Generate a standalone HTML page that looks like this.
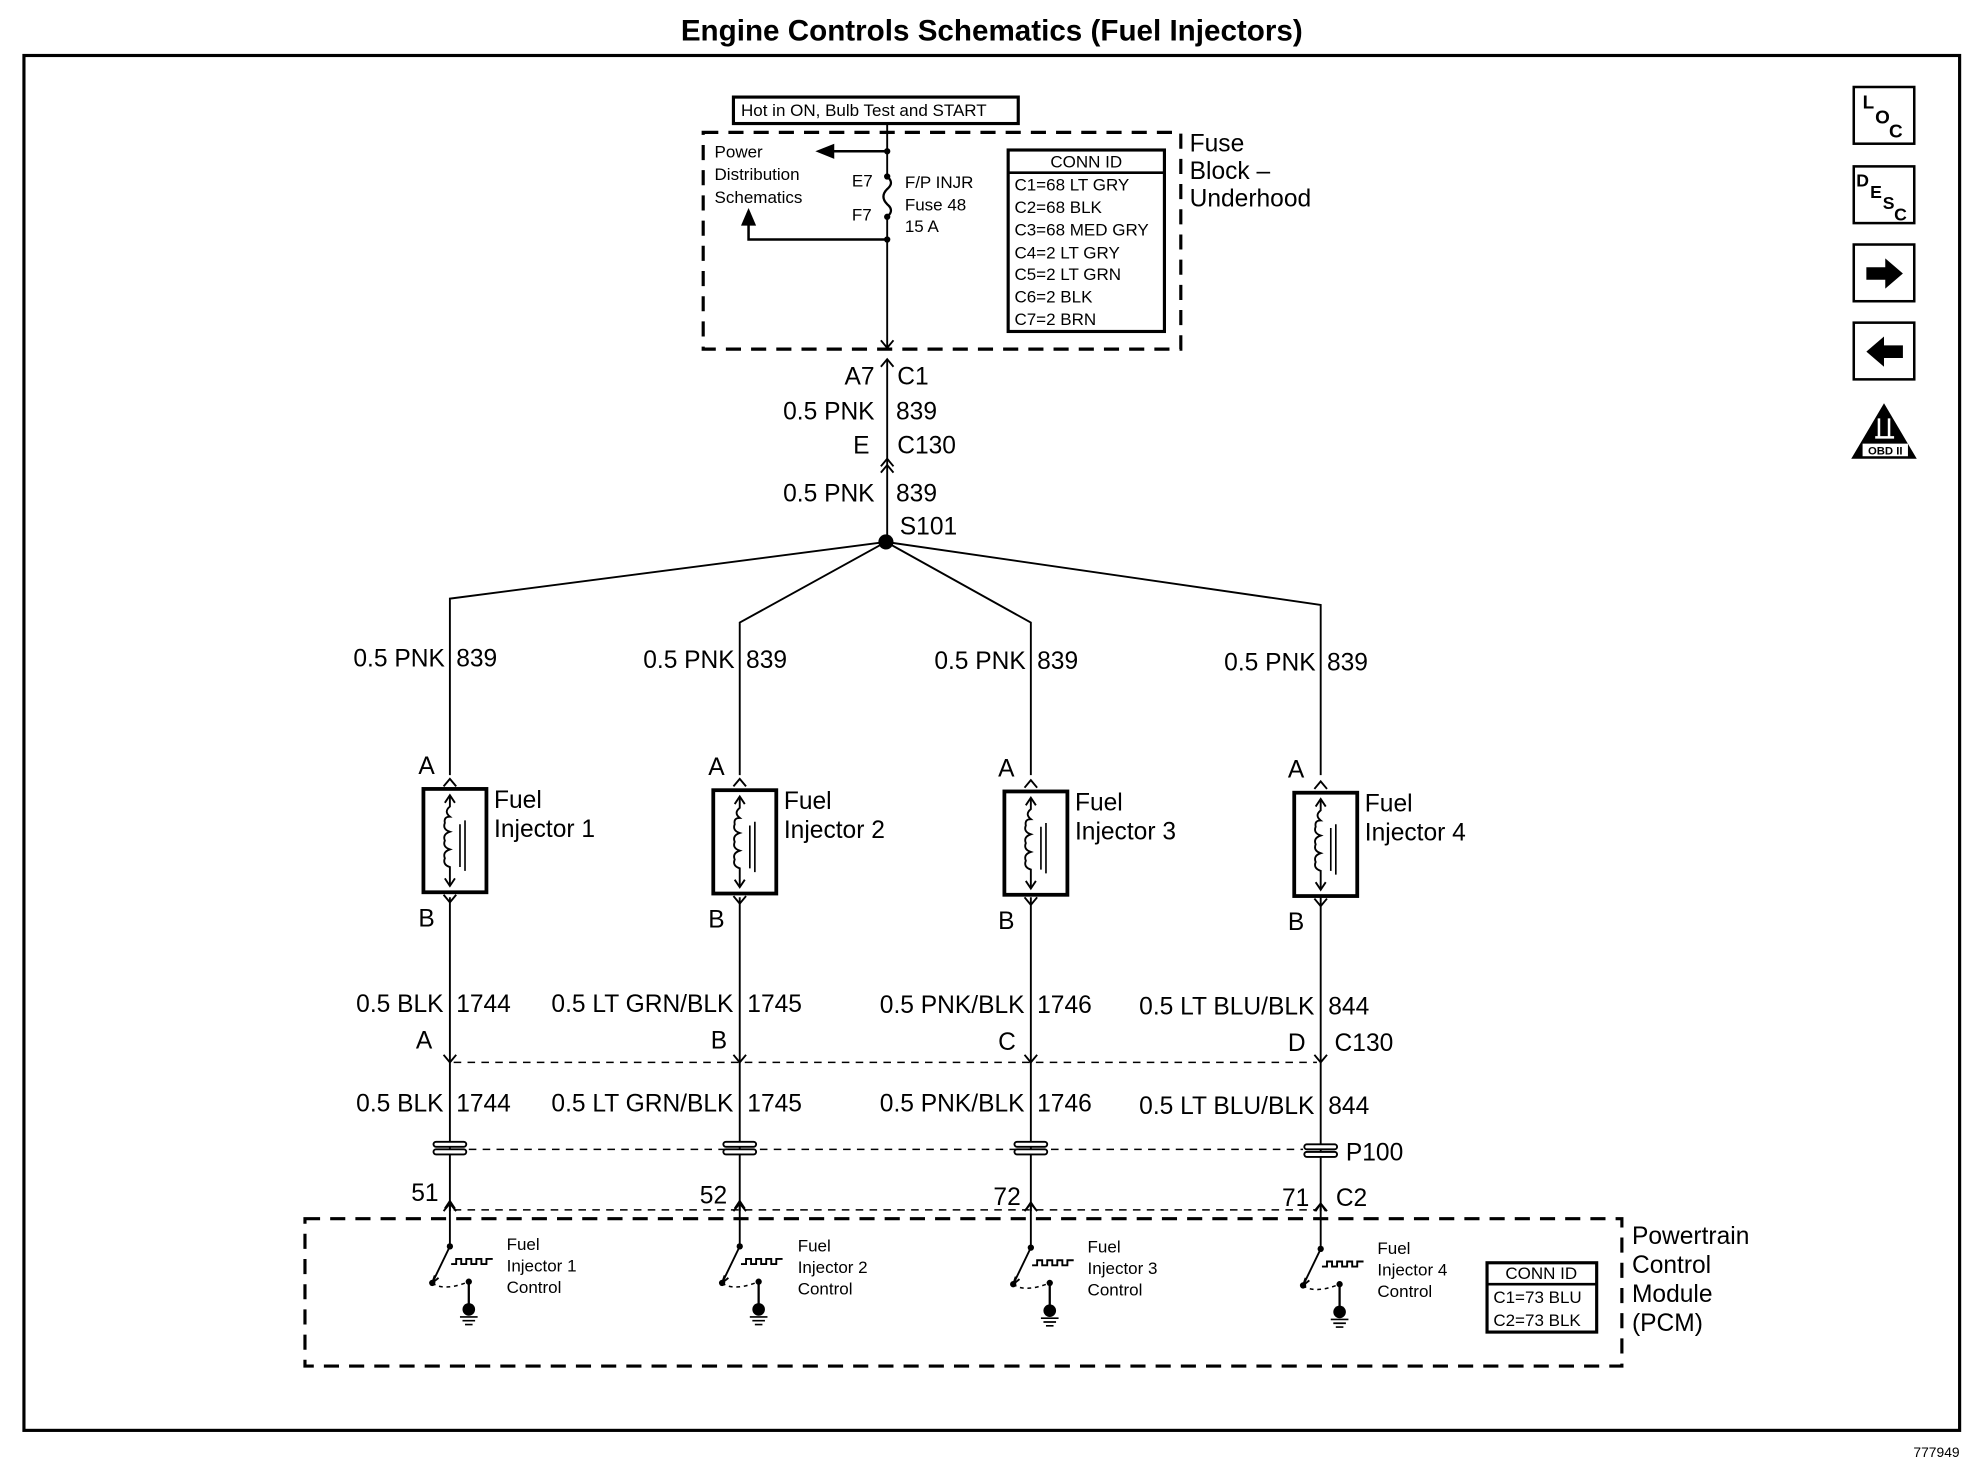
<!DOCTYPE html>
<html><head><meta charset="utf-8"><style>
html,body{margin:0;padding:0;background:#fff}
svg{display:block}
text{font-family:"Liberation Sans",Arial,sans-serif;fill:#000}
</style></head><body>
<svg width="1976" height="1472" viewBox="0 0 1568 1168" xmlns="http://www.w3.org/2000/svg">
<defs>
<g id="inj">
  <rect x="-21" y="0" width="50" height="82" fill="#fff" stroke="#000" stroke-width="3"/>
  <path d="M0 6 V14 q-5 4 0 8 q-5 0 -4 5 q-2 5 4 7 q-6 2 -4 7 q-2 5 4 7 q-6 2 -4 7 q-2 5 4 7 V76" fill="none" stroke="#000" stroke-width="1.5"/>
  <path d="M-4 11 L0 5 L4 11 M-4 71 L0 77 L4 71" fill="none" stroke="#000" stroke-width="1.5"/>
  <path d="M8 28 V62 M12 25 V65" stroke="#000" stroke-width="1.3"/>
</g>
<g id="sw">
  <path d="M0 -14 V22" stroke="#000" stroke-width="1.5"/>
  <path d="M-4 -8 L0 -14 L4 -8" fill="none" stroke="#000" stroke-width="1.5"/>
  <circle cx="0" cy="22" r="2.5"/>
  <path d="M0 22 L-14 51" stroke="#000" stroke-width="1.5"/>
  <path d="M-12 45 L-14 51 L-9 47" fill="none" stroke="#000" stroke-width="1.5"/>
  <circle cx="-14" cy="51" r="2.5"/>
  <path d="M1 36 H5 V32 H9 V36 H13 V32 H17 V36 H21 V32 H25 V36 H29 V32 H34" fill="none" stroke="#000" stroke-width="1.5"/>
  <path d="M-14 51 Q-5 58 15 50" fill="none" stroke="#000" stroke-width="1.2" stroke-dasharray="3,3"/>
  <circle cx="15" cy="50" r="2.5"/>
  <path d="M15 50 V72" stroke="#000" stroke-width="1.8"/>
  <circle cx="15" cy="72" r="5"/>
  <path d="M8 78 H22 M10 81 H20 M12 84 H18" stroke="#000" stroke-width="1.3"/>
</g>
<g id="up"><path d="M-5 6 L0 0 L5 6" fill="none" stroke="#000" stroke-width="1.5"/></g>
<g id="dn"><path d="M-5 -6 L0 0 L5 -6" fill="none" stroke="#000" stroke-width="1.5"/></g>
<g id="p100"><rect x="-13" y="-5" width="26" height="4" rx="2" fill="#fff" stroke="#000" stroke-width="1.5"/><rect x="-13" y="1" width="26" height="4" rx="2" fill="#fff" stroke="#000" stroke-width="1.5"/></g>
</defs>

<text x="787" y="32" font-size="23.5" font-weight="bold" text-anchor="middle">Engine Controls Schematics (Fuel Injectors)</text>
<rect x="19" y="44" width="1536" height="1091" fill="none" stroke="#000" stroke-width="2.5"/>
<text x="1555" y="1156" font-size="11" text-anchor="end">777949</text>

<g stroke="#000" stroke-width="2" fill="#fff">
<rect x="1471" y="69" width="48" height="45"/><rect x="1471" y="132" width="48" height="45"/>
<rect x="1471" y="194" width="48" height="45"/><rect x="1471" y="256" width="48" height="45"/>
</g>
<text x="1478" y="86" font-size="15" font-weight="bold">L</text><text x="1488" y="98" font-size="15" font-weight="bold">O</text><text x="1499" y="109" font-size="15" font-weight="bold">C</text>
<text x="1473" y="148" font-size="14" font-weight="bold">D</text><text x="1484" y="157" font-size="14" font-weight="bold">E</text><text x="1494" y="166" font-size="14" font-weight="bold">S</text><text x="1503" y="175" font-size="14" font-weight="bold">C</text>
<path d="M1481 212 H1496 V205 L1510 217 L1496 229 V222 H1481 Z"/>
<path d="M1510 274 H1495 V267 L1481 279 L1495 291 V284 H1510 Z"/>
<path d="M1495 320 L1521 364 H1469 Z"/>
<rect x="1478" y="352" width="36" height="10" fill="#fff"/>
<text x="1496" y="360.5" font-size="9" font-weight="bold" text-anchor="middle">OBD II</text>
<path d="M1491 332 V346 M1499 332 V346 M1488 347 H1503" stroke="#fff" stroke-width="2"/>

<rect x="582" y="77" width="226" height="21" fill="none" stroke="#000" stroke-width="2.5"/>
<text x="588" y="92" font-size="13.5">Hot in ON, Bulb Test and START</text>
<rect x="558" y="105" width="379" height="172" fill="none" stroke="#000" stroke-width="2.5" stroke-dasharray="12,8"/>
<path d="M704 98 V275" stroke="#000" stroke-width="1.5"/>
<use href="#dn" x="704" y="276"/>
<rect x="700" y="138" width="10" height="36" fill="#fff"/>
<path d="M704 140 q6 5 0 10 q-6 6 0 12 q6 5 0 10" fill="none" stroke="#000" stroke-width="1.8"/>
<circle cx="704" cy="140" r="2.5"/><circle cx="704" cy="172" r="2.5"/>
<circle cx="704" cy="120" r="2.5"/><circle cx="704" cy="190" r="2.5"/>
<path d="M704 120 H660" stroke="#000" stroke-width="2"/>
<path d="M647 120 L662 114 V126 Z"/>
<path d="M704 190 H594 V178" stroke="#000" stroke-width="2" fill="none"/>
<path d="M594 165 L588 179 H600 Z"/>
<g font-size="13.5">
<text x="567" y="125">Power</text>
<text x="567" y="143">Distribution</text>
<text x="567" y="161">Schematics</text>
<text x="676" y="148">E7</text>
<text x="676" y="175">F7</text>
<text x="718" y="149">F/P INJR</text>
<text x="718" y="167">Fuse 48</text>
<text x="718" y="184">15 A</text>
</g>
<rect x="800" y="119" width="124" height="144" fill="#fff" stroke="#000" stroke-width="2.5"/>
<path d="M800 137 H924" stroke="#000" stroke-width="2"/>
<g font-size="13.5">
<text x="862" y="133" text-anchor="middle">CONN ID</text>
<text x="805" y="151">C1=68 LT GRY</text>
<text x="805" y="169">C2=68 BLK</text>
<text x="805" y="187">C3=68 MED GRY</text>
<text x="805" y="205">C4=2 LT GRY</text>
<text x="805" y="222">C5=2 LT GRN</text>
<text x="805" y="240">C6=2 BLK</text>
<text x="805" y="258">C7=2 BRN</text>
</g>
<g font-size="19.5">
<text x="944" y="120">Fuse</text>
<text x="944" y="142">Block –</text>
<text x="944" y="164">Underhood</text>
</g>

<path d="M704 285 V430" stroke="#000" stroke-width="1.5"/>
<use href="#up" x="704" y="285"/>
<use href="#up" x="704" y="364"/><use href="#up" x="704" y="369"/>
<g font-size="19.5">
<text x="694" y="305" text-anchor="end">A7</text><text x="712" y="305">C1</text>
<text x="694" y="333" text-anchor="end">0.5 PNK</text><text x="711" y="333">839</text>
<text x="690" y="360" text-anchor="end">E</text><text x="712" y="360">C130</text>
<text x="694" y="398" text-anchor="end">0.5 PNK</text><text x="711" y="398">839</text>
<text x="714" y="424">S101</text>
</g>
<circle cx="703" cy="430" r="6"/>
<path d="M703 430 L357 475 V615 M703 430 L587 494 V615 M703 430 L818 494 V615 M703 430 L1048 480 V615" fill="none" stroke="#000" stroke-width="1.5"/>

<g stroke="#000" stroke-width="1.5">
<path d="M357 712 V961 M587 712 V961 M818 712 V961 M1048 712 V961"/>
</g>
<g fill="none" stroke="#000" stroke-width="1.2" stroke-dasharray="6,5">
<path d="M360 843 H1045"/><path d="M372 912 H1034"/><path d="M360 960 H1045"/>
</g>
<rect x="242" y="967" width="1045" height="117" fill="none" stroke="#000" stroke-width="2.5" stroke-dasharray="12,8"/>

<use href="#inj" x="357" y="626"/><use href="#inj" x="587" y="627"/><use href="#inj" x="818" y="628"/><use href="#inj" x="1048" y="629"/>
<g>
<use href="#up" x="357" y="618"/><use href="#up" x="587" y="618"/><use href="#up" x="818" y="619"/><use href="#up" x="1048" y="620"/>
<use href="#dn" x="357" y="716"/><use href="#dn" x="587" y="717"/><use href="#dn" x="818" y="718"/><use href="#dn" x="1048" y="719"/>
<use href="#dn" x="357" y="843"/><use href="#dn" x="587" y="843"/><use href="#dn" x="818" y="843"/><use href="#dn" x="1048" y="843"/>
<use href="#p100" x="357" y="911"/><use href="#p100" x="587" y="911"/><use href="#p100" x="818" y="911"/><use href="#p100" x="1048" y="913"/>
<use href="#up" x="357" y="955"/><use href="#up" x="587" y="955"/><use href="#up" x="818" y="955"/><use href="#up" x="1048" y="955"/>
</g>
<use href="#sw" x="357" y="967"/><use href="#sw" x="587" y="967"/><use href="#sw" x="818" y="968"/><use href="#sw" x="1048" y="969"/>

<g font-size="19.5">
<text x="353" y="529" text-anchor="end">0.5 PNK</text><text x="362" y="529">839</text>
<text x="583" y="530" text-anchor="end">0.5 PNK</text><text x="592" y="530">839</text>
<text x="814" y="531" text-anchor="end">0.5 PNK</text><text x="823" y="531">839</text>
<text x="1044" y="532" text-anchor="end">0.5 PNK</text><text x="1053" y="532">839</text>
<text x="332" y="614">A</text><text x="562" y="615">A</text><text x="792" y="616">A</text><text x="1022" y="617">A</text>
<text x="332" y="735">B</text><text x="562" y="736">B</text><text x="792" y="737">B</text><text x="1022" y="738">B</text>
<text x="352" y="803" text-anchor="end">0.5 BLK</text><text x="362" y="803">1744</text>
<text x="582" y="803" text-anchor="end">0.5 LT GRN/BLK</text><text x="593" y="803">1745</text>
<text x="813" y="804" text-anchor="end">0.5 PNK/BLK</text><text x="823" y="804">1746</text>
<text x="1043" y="805" text-anchor="end">0.5 LT BLU/BLK</text><text x="1054" y="805">844</text>
<text x="330" y="832">A</text><text x="564" y="832">B</text><text x="792" y="833">C</text><text x="1022" y="834">D</text><text x="1059" y="834">C130</text>
<text x="352" y="882" text-anchor="end">0.5 BLK</text><text x="362" y="882">1744</text>
<text x="582" y="882" text-anchor="end">0.5 LT GRN/BLK</text><text x="593" y="882">1745</text>
<text x="813" y="882" text-anchor="end">0.5 PNK/BLK</text><text x="823" y="882">1746</text>
<text x="1043" y="884" text-anchor="end">0.5 LT BLU/BLK</text><text x="1054" y="884">844</text>
<text x="1068" y="921">P100</text>
<text x="348" y="953" text-anchor="end">51</text><text x="577" y="955" text-anchor="end">52</text><text x="810" y="956" text-anchor="end">72</text><text x="1039" y="957" text-anchor="end">71</text><text x="1060" y="957">C2</text>
</g>
<g font-size="19.5">
<text x="392" y="641">Fuel</text><text x="392" y="664">Injector 1</text>
<text x="622" y="642">Fuel</text><text x="622" y="665">Injector 2</text>
<text x="853" y="643">Fuel</text><text x="853" y="666">Injector 3</text>
<text x="1083" y="644">Fuel</text><text x="1083" y="667">Injector 4</text>
</g>
<g font-size="13.5">
<text x="402" y="992">Fuel</text><text x="402" y="1009">Injector 1</text><text x="402" y="1026">Control</text>
<text x="633" y="993">Fuel</text><text x="633" y="1010">Injector 2</text><text x="633" y="1027">Control</text>
<text x="863" y="994">Fuel</text><text x="863" y="1011">Injector 3</text><text x="863" y="1028">Control</text>
<text x="1093" y="995">Fuel</text><text x="1093" y="1012">Injector 4</text><text x="1093" y="1029">Control</text>
</g>
<rect x="1180" y="1002" width="87" height="55" fill="#fff" stroke="#000" stroke-width="2.5"/>
<path d="M1180 1019 H1267" stroke="#000" stroke-width="2"/>
<g font-size="13.5">
<text x="1223" y="1015" text-anchor="middle">CONN ID</text>
<text x="1185" y="1034">C1=73 BLU</text>
<text x="1185" y="1052">C2=73 BLK</text>
</g>
<g font-size="19.5">
<text x="1295" y="987">Powertrain</text>
<text x="1295" y="1010">Control</text>
<text x="1295" y="1033">Module</text>
<text x="1295" y="1056">(PCM)</text>
</g>
</svg>
</body></html>
